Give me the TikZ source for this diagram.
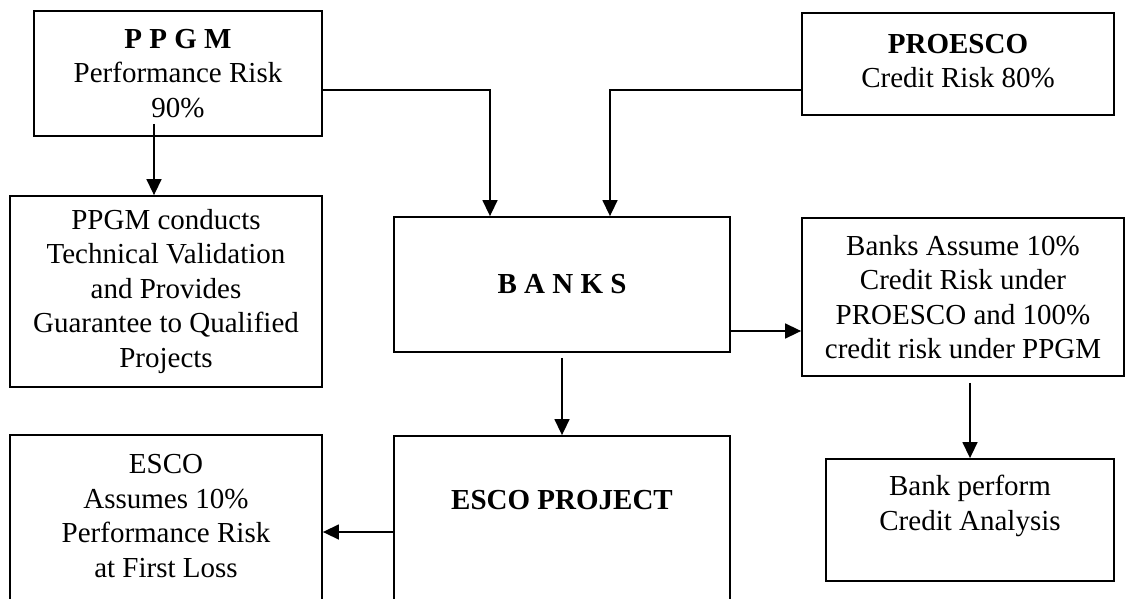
\documentclass[tikz,border=0pt]{standalone}
\usepackage{fontspec}
\setmainfont{Liberation Serif}
\usetikzlibrary{arrows.meta,calc}
\begin{document}
\begin{tikzpicture}[x=1pt,y=-1pt,
  box/.style={draw, line width=1.8pt, rectangle, inner sep=0pt},
  txt/.style={align=center, font=\fontsize{29}{34.5}\selectfont, inner sep=0pt},
  arr/.style={line width=1.5pt, -{Triangle[length=16pt,width=15pt]}}]
\useasboundingbox (0,0) rectangle (1126,599);
\clip (0,0) rectangle (1126,599);
% boxes
\node[box, txt, minimum width=288pt, minimum height=125pt] (ppgm) at (178,73.5)
  {\textbf{P P G M}\\Performance Risk\\90\%};
\node[box, minimum width=312pt, minimum height=102pt] (proesco) at (958,64) {};
\node[txt] (proescot) at (958,61) {\textbf{PROESCO}\\Credit Risk 80\%};
\node[box, txt, minimum width=312pt, minimum height=191pt] (conducts) at (166,291.5)
  {PPGM conducts\\Technical Validation\\and Provides\\Guarantee to Qualified\\Projects};
\node[box, txt, minimum width=336pt, minimum height=135pt] (banks) at (562,284.5)
  {\textbf{B A N K S}};
\node[box, txt, minimum width=322pt, minimum height=158pt] (bassume) at (963,297)
  {Banks Assume 10\%\\Credit Risk under\\PROESCO and 100\%\\credit risk under PPGM};
\node[box, minimum width=288pt, minimum height=122pt] (bperf) at (970,520) {};
\node[txt] (bperft) at (970,506) {Bank perform\\Credit Analysis};
\node[box, minimum width=336pt, minimum height=184pt] (escoproj) at (562,528) {};
\node[txt] (escoprojt) at (562,500) {\textbf{ESCO PROJECT}};
\node[box, minimum width=312pt, minimum height=185pt] (esco) at (166,527.5) {};
\node[txt] (escot) at (166,516) {ESCO\\Assumes 10\%\\Performance Risk\\at First Loss};
% connectors
\draw[arr] ([yshift=-16.5pt]ppgm.east) -| ([xshift=-72pt]banks.north);
\draw[arr] ([yshift=-26pt]proesco.west) -| ([xshift=48pt]banks.north);
\draw[arr] ([xshift=-24pt,yshift=13pt]ppgm.south) -- ([xshift=-12pt]conducts.north);
\draw[arr] ([yshift=-46.5pt]banks.east) -- ([yshift=-34pt]bassume.west);
\draw[arr] ([yshift=-5pt]banks.south) -- (escoproj.north);
\draw[arr] ([yshift=-4pt]escoproj.west) -- ([yshift=-4.5pt]esco.east);
\draw[arr] ([xshift=7pt,yshift=-6pt]bassume.south) -- (bperf.north);
\end{tikzpicture}
\end{document}
